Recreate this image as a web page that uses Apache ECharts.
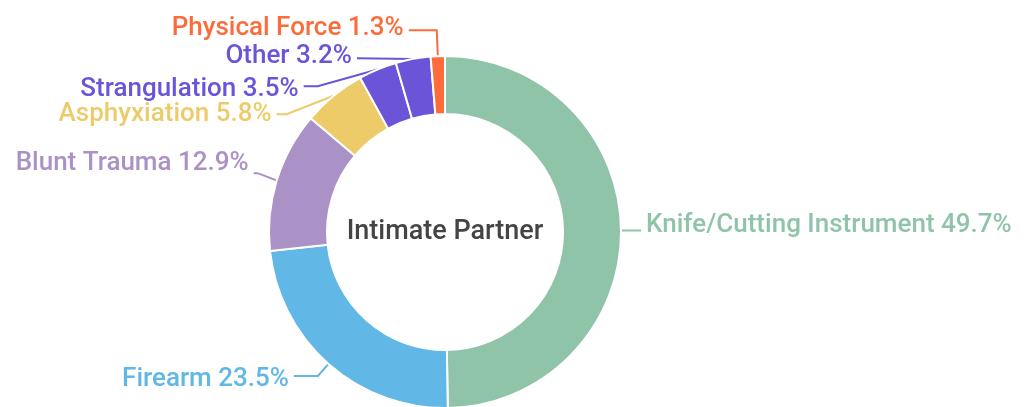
<!DOCTYPE html>
<html><head><meta charset="utf-8">
<script src="https://cdn.jsdelivr.net/npm/echarts@6/dist/echarts.min.js"></script>
<style>html,body{margin:0;padding:0;background:#fff}#c{width:1028px;height:407px}</style>
</head><body><div id="c"></div>
<script>
const categories = ["Knife/Cutting Instrument","Firearm","Blunt Trauma","Asphyxiation","Strangulation","Other","Physical Force"];
const values = [49.7,23.5,12.9,5.8,3.5,3.2,1.3];
const colors = ["#8fc4a9","#61b7e5","#ab92c6","#eecb69","#6b54d8","#6b54d8","#fe6b3a"];
const centerTitle = "Intimate Partner";
// label line styling per slice (first segment, second segment, text nudge)
const lineLen = [8,16,25,25,15,6,26];
const lineLen2 = [12,24,4,10,14,0,28];
const textNudge = [-5,4,-10,0,3,-2,-2];

const chart = echarts.init(document.getElementById('c'));
chart.setOption({
  animation:false,
  graphic:[{type:'text',x:445,y:232,style:{text:centerTitle,textAlign:'center',textVerticalAlign:'middle',
    fontFamily:'Roboto',fontSize:27,fontWeight:500,fill:'#444'}}],
  series:[{
    type:'pie',
    center:[445,232],
    radius:[118,176],
    startAngle:90,
    clockwise:true,
    avoidLabelOverlap:true,
    itemStyle:{borderColor:'#fff',borderWidth:2},
    label:{show:true,position:'outside',fontFamily:'Roboto',fontSize:26,fontWeight:500,distance:2,
      formatter:p=>p.name+' '+p.value.toFixed(1)+'%'},
    labelLine:{show:true,length:10,length2:16,lineStyle:{width:2}},
    labelLayout:p=>({dy:textNudge[p.dataIndex]}),
    data:categories.map((n,i)=>({name:n,value:values[i],
      itemStyle:{color:colors[i]},label:{color:colors[i]},
      labelLine:{length:lineLen[i],length2:lineLen2[i],lineStyle:{color:colors[i]}}}))
  }]
});
</script></body></html>
